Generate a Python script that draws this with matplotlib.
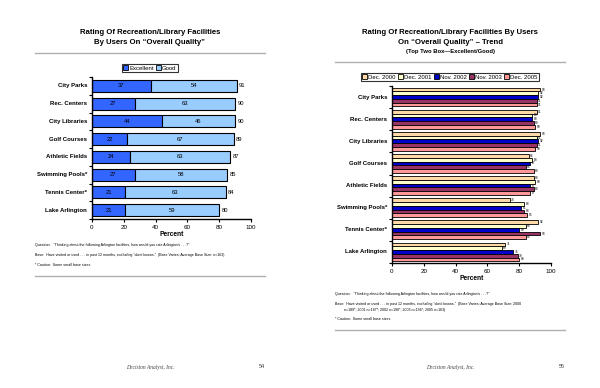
import numpy as np
import matplotlib
matplotlib.use('Agg')
import matplotlib.pyplot as plt
from matplotlib.patches import Patch

plt.rcParams['font.family'] = ['Liberation Sans', 'DejaVu Sans']

# Данные левого графика
facilities = ['City Parks', 'Rec. Centers', 'City Libraries', 'Golf Courses',
              'Athletic Fields', 'Swimming Pools*', 'Tennis Center*', 'Lake Arlington']
excellent = [37, 27, 44, 22, 24, 27, 21, 21]
good = [54, 63, 46, 67, 63, 58, 63, 59]
totals = [91, 90, 90, 89, 87, 85, 84, 80]

# Данные правого графика (тренд)
trend_facilities = ['City Parks', 'Rec. Centers', 'City Libraries', 'Golf Courses',
                    'Athletic Fields', 'Swimming Pools*', 'Tennis Center*', 'Lake Arlington']
years = ['Dec. 2000', 'Dec. 2001', 'Nov. 2002', 'Nov. 2003', 'Dec. 2005']
trend = {
    'Dec. 2000': [93, 91, 93, 86, 89, 74, 92, 71],
    'Dec. 2001': [92, 88, 91, 88, 90, 83, 84, 69],
    'Nov. 2002': [92, 88, 92, 87, 87, 81, 80, 76],
    'Nov. 2003': [91, 89, 91, 84, 89, 83, 93, 79],
    'Dec. 2005': [91, 90, 90, 89, 87, 85, 84, 80],
}
trend_colors = ['#FFD9A8', '#FFFFCC', '#0000CC', '#993366', '#FF9999']

W, H = 600, 388
fig = plt.figure(figsize=(W / 100, H / 100), dpi=100)
fig.patch.set_facecolor('white')


def fx(x):
    return x / W


def fy(y):
    return 1 - y / H


def rule(x0, x1, y):
    fig.add_artist(plt.Line2D([fx(x0), fx(x1)], [fy(y), fy(y)], color='#B0B0B0', lw=1.0))


def style_axes(ax, n):
    for s in ['top', 'right']:
        ax.spines[s].set_visible(False)
    for s in ['left', 'bottom']:
        ax.spines[s].set_linewidth(1.0)
    ax.set_xlim(0, 100)
    ax.set_ylim(n - 0.5, -0.5)
    ax.set_xticks(range(0, 101, 20))
    ax.tick_params(axis='x', labelsize=4.5, length=2.5, width=0.8, pad=1.5)
    ax.set_yticks(range(n))
    ax.set_yticklabels([])
    ax.tick_params(axis='y', length=0)
    ax.set_yticks(np.arange(-0.5, n, 1.0), minor=True)
    ax.tick_params(axis='y', which='minor', length=2.5, width=0.8)
    ax.set_xlabel('Percent', fontsize=4.8, fontweight='bold', labelpad=1)


# ---------- Левая страница ----------
fig.text(fx(150), fy(32), 'Rating Of Recreation/Library Facilities', ha='center', va='center',
         fontsize=5.6, fontweight='bold')
fig.text(fx(150), fy(42), 'By Users On \u201cOverall Quality\u201d', ha='center', va='center',
         fontsize=5.6, fontweight='bold')
rule(35, 265, 53)

ax1 = fig.add_axes([fx(92), fy(219), (251 - 92) / W, (219 - 77) / H])
n1 = len(facilities)
y1 = np.arange(n1)
ax1.barh(y1, excellent, height=0.68, color='#3366FF', edgecolor='black', lw=0.8, label='Excellent')
ax1.barh(y1, good, left=excellent, height=0.68, color='#99CCFF', edgecolor='black', lw=0.8, label='Good')
style_axes(ax1, n1)
for i in range(n1):
    ax1.text(excellent[i] / 2, i, str(excellent[i]), ha='center', va='center', fontsize=4.2)
    ax1.text(excellent[i] + good[i] / 2, i, str(good[i]), ha='center', va='center', fontsize=4.2)
    ax1.text(totals[i] + 1.5, i, str(totals[i]), ha='left', va='center', fontsize=4.2)
    ax1.text(-3, i, facilities[i], ha='right', va='center', fontsize=4.3, fontweight='bold')

leg1 = ax1.legend(handles=[Patch(facecolor='#3366FF', edgecolor='black', lw=0.6, label='Excellent'),
                           Patch(facecolor='#99CCFF', edgecolor='black', lw=0.6, label='Good')],
                  loc='center', bbox_to_anchor=(fx(150), fy(68)), bbox_transform=fig.transFigure,
                  ncol=2, fontsize=4.3, frameon=True, fancybox=False, edgecolor='black',
                  handlelength=0.8, handleheight=0.8, handletextpad=0.2, columnspacing=0.4,
                  borderpad=0.25, borderaxespad=0)
leg1.get_frame().set_linewidth(0.8)

notes_left = [
    'Question:   \u201cThinking about the following Arlington facilities, how would you rate Arlington\u2019s . . .?\u201d',
    'Base:  Have visited or used . . . in past 12 months, excluding \u201cdon\u2019t knows.\u201d  (Base Varies; Average Base Size: n=163)',
    '* Caution:  Some small base sizes.',
]
for k, t in enumerate(notes_left):
    fig.text(fx(35), fy(245 + 10 * k), t, ha='left', va='center', fontsize=2.6)
rule(35, 265, 276)
fig.text(fx(150), fy(367), 'Decision Analyst, Inc.', ha='center', va='center', fontsize=4,
         style='italic', family=['Liberation Serif', 'DejaVu Serif'], color='#444444')
fig.text(fx(262), fy(367), '54', ha='center', va='center', fontsize=4, color='#444444')

# ---------- Правая страница ----------
fig.text(fx(450), fy(33), 'Rating Of Recreation/Library Facilities By Users', ha='center', va='center',
         fontsize=5.6, fontweight='bold')
fig.text(fx(450), fy(42), 'On \u201cOverall Quality\u201d \u2013 Trend', ha='center', va='center',
         fontsize=5.6, fontweight='bold')
fig.text(fx(450), fy(51), '(Top Two Box\u2014Excellent/Good)', ha='center', va='center',
         fontsize=4.2, fontweight='bold')
rule(335, 565, 62)

ax2 = fig.add_axes([fx(392), fy(263), (551 - 392) / W, (263 - 86) / H])
n2 = len(trend_facilities)
bh = 0.17
for j, yr in enumerate(years):
    yy = np.arange(n2) - 2 * bh + j * bh
    vals = trend[yr]
    ax2.barh(yy, vals, height=bh, color=trend_colors[j], edgecolor='black', lw=0.6, label=yr)
    for i in range(n2):
        ax2.text(vals[i] + 1, yy[i], str(vals[i]), ha='left', va='center', fontsize=2.3)
style_axes(ax2, n2)
for i in range(n2):
    ax2.text(-3, i, trend_facilities[i], ha='right', va='center', fontsize=4.3, fontweight='bold')

leg2 = ax2.legend(handles=[Patch(facecolor=c, edgecolor='black', lw=0.6, label=yr)
                           for yr, c in zip(years, trend_colors)],
                  loc='center', bbox_to_anchor=(fx(450), fy(77)), bbox_transform=fig.transFigure,
                  ncol=5, fontsize=4.3, frameon=True, fancybox=False, edgecolor='black',
                  handlelength=0.8, handleheight=0.8, handletextpad=0.2, columnspacing=0.4,
                  borderpad=0.25, borderaxespad=0)
leg2.get_frame().set_linewidth(0.8)

notes_right = [
    (294, 'Question:   \u201cThinking about the following Arlington facilities, how would you rate Arlington\u2019s . . .?\u201d'),
    (304, 'Base:  Have visited or used . . . in past 12 months, excluding \u201cdon\u2019t knows.\u201d  (Base Varies; Average Base Size: 2000'),
    (310, '         n=189*; 2001 n=187*; 2002 n=190*; 2003 n=194*; 2005 n=163)'),
    (319, '* Caution:  Some small base sizes.'),
]
for yv, t in notes_right:
    fig.text(fx(335), fy(yv), t, ha='left', va='center', fontsize=2.6)
rule(335, 565, 330)
fig.text(fx(450), fy(367), 'Decision Analyst, Inc.', ha='center', va='center', fontsize=4,
         style='italic', family=['Liberation Serif', 'DejaVu Serif'], color='#444444')
fig.text(fx(562), fy(367), '55', ha='center', va='center', fontsize=4, color='#444444')

fig.savefig('out.png', dpi=100, facecolor='white')
